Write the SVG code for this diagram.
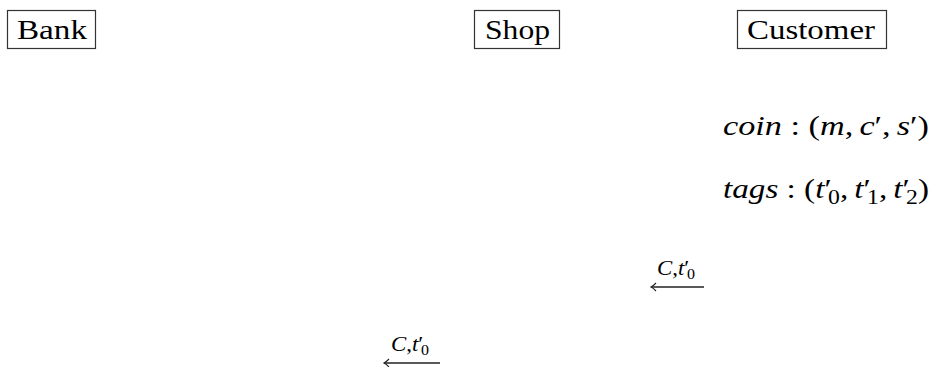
<svg xmlns="http://www.w3.org/2000/svg" width="932" height="367" viewBox="0 0 932 367">
  <defs>
    <style>
      .box { fill: #ffffff; stroke: #333333; stroke-width: 1.2; }
      text { fill: #000000; }
      .it { font-style: italic; }
      .edge { fill: none; stroke: #222222; stroke-width: 1.3; }
    </style>
    <marker id="hook" viewBox="0 0 10 10" refX="9" refY="5" markerWidth="10" markerHeight="10" markerUnits="userSpaceOnUse" orient="auto">
      <path d="M4,1 Q7,4.2 9,5 Q7,5.8 4,9" fill="none" stroke="#222222" stroke-width="1.1"/>
    </marker>
  </defs>

  <g id="bank">
    <rect class="box" x="7.5" y="10.5" width="88" height="38"/>
    <text font-family="'Liberation Serif', 'DejaVu Serif', serif" font-size="28" x="17" y="38.5" textLength="70" lengthAdjust="spacingAndGlyphs">Bank</text>
  </g>

  <g id="shop">
    <rect class="box" x="474.5" y="10.5" width="85" height="38"/>
    <text font-family="'Liberation Serif', 'DejaVu Serif', serif" font-size="28" x="485" y="38.5" textLength="65" lengthAdjust="spacingAndGlyphs">Shop</text>
  </g>

  <g id="customer">
    <rect class="box" x="737.5" y="10.5" width="149" height="38"/>
    <text font-family="'Liberation Serif', 'DejaVu Serif', serif" font-size="28" x="747" y="38.5" textLength="128" lengthAdjust="spacingAndGlyphs">Customer</text>
  </g>

  <g id="customer-state" font-family="'Liberation Serif', 'DejaVu Serif', serif" font-size="28">
    <text x="723" y="135" textLength="206" lengthAdjust="spacingAndGlyphs"><tspan class="it">coin</tspan><tspan dx="7">:</tspan><tspan dx="7">(</tspan><tspan class="it">m</tspan>,<tspan class="it" dx="5">c</tspan>′,<tspan class="it" dx="5">s</tspan>′)</text>
    <text x="723" y="198" textLength="206" lengthAdjust="spacingAndGlyphs"><tspan class="it">tags</tspan><tspan dx="7">:</tspan><tspan dx="7">(</tspan><tspan class="it">t</tspan>′<tspan font-size="20" dx="-3" dy="6">0</tspan><tspan dy="-6">,</tspan><tspan class="it" dx="5">t</tspan>′<tspan font-size="20" dx="-3" dy="6">1</tspan><tspan dy="-6">,</tspan><tspan class="it" dx="5">t</tspan>′<tspan font-size="20" dx="-3" dy="6">2</tspan><tspan dy="-6">)</tspan></text>
  </g>

  <g id="connectors" font-family="'Liberation Serif', 'DejaVu Serif', serif" font-size="20">
    <g id="msg-customer-shop">
      <line class="edge" x1="704" y1="287" x2="651" y2="287" marker-end="url(#hook)"/>
      <text x="657" y="275" textLength="38" lengthAdjust="spacingAndGlyphs"><tspan class="it">C</tspan>,<tspan class="it">t</tspan>′<tspan font-size="14" dx="-2" dy="4">0</tspan></text>
    </g>
    <g id="msg-shop-bank">
      <line class="edge" x1="440" y1="363" x2="384" y2="363" marker-end="url(#hook)"/>
      <text x="391" y="351" textLength="38" lengthAdjust="spacingAndGlyphs"><tspan class="it">C</tspan>,<tspan class="it">t</tspan>′<tspan font-size="14" dx="-2" dy="4">0</tspan></text>
    </g>
  </g>
</svg>
